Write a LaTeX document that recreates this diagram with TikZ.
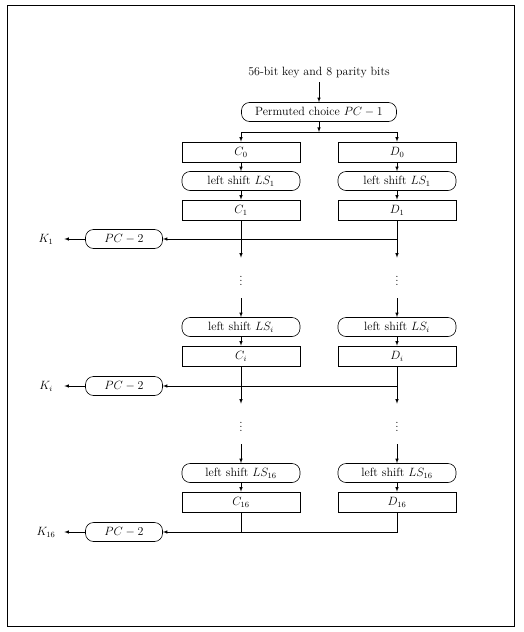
\documentclass[tikz,border=0pt]{standalone}
\usepackage{amsmath}
\usepackage{tikz}

\begin{document}
\begin{tikzpicture}[x=1pt,y=-1pt,font=\large,line width=0.6pt,>=latex,
  regbox/.style={draw,rectangle,minimum width=118pt,minimum height=20pt,inner sep=0pt},
  shiftbox/.style={draw,rounded corners=8pt,minimum width=118pt,minimum height=19pt,inner sep=0pt},
  pcbox/.style={draw,rounded corners=8pt,minimum height=19pt,inner sep=0pt},
  dotsbox/.style={minimum height=40pt,inner sep=0pt},
  keylabel/.style={minimum width=36pt,inner sep=0pt}]
\useasboundingbox (0,0) rectangle (523,632);
\draw[line width=1pt] (7,5) rectangle (514,626);

\node (input) at (319,73) {56-bit key and 8 parity bits};
\node[pcbox,minimum width=155pt] (pc1) at (319,112) {Permuted choice $PC-1$};
\coordinate (split) at (319,132);

\node[regbox] (c0) at (241,152) {$C_0$};
\node[regbox] (d0) at (397,152) {$D_0$};
\node[shiftbox] (lsc1) at (241,181) {left shift $LS_1$};
\node[shiftbox] (lsd1) at (397,181) {left shift $LS_1$};
\node[regbox] (c1) at (241,210) {$C_1$};
\node[regbox] (d1) at (397,210) {$D_1$};
\node[pcbox,minimum width=77pt] (pc2a) at (124,239) {$PC-2$};
\node[keylabel] (k1) at (46,239) {$K_1$};
\node[dotsbox] (vc1) at (241,278) {$\vdots$};
\node[dotsbox] (vd1) at (397,278) {$\vdots$};

\node[shiftbox] (lsci) at (241,327) {left shift $LS_i$};
\node[shiftbox] (lsdi) at (397,327) {left shift $LS_i$};
\node[regbox] (ci) at (241,356) {$C_i$};
\node[regbox] (di) at (397,356) {$D_i$};
\node[pcbox,minimum width=77pt] (pc2b) at (124,386) {$PC-2$};
\node[keylabel] (ki) at (46,386) {$K_i$};
\node[dotsbox] (vci) at (241,424) {$\vdots$};
\node[dotsbox] (vdi) at (397,424) {$\vdots$};

\node[shiftbox] (lsc16) at (241,473) {left shift $LS_{16}$};
\node[shiftbox] (lsd16) at (397,473) {left shift $LS_{16}$};
\node[regbox] (c16) at (241,502) {$C_{16}$};
\node[regbox] (d16) at (397,502) {$D_{16}$};
\node[pcbox,minimum width=77pt] (pc2c) at (124,532) {$PC-2$};
\node[keylabel] (k16) at (46,532) {$K_{16}$};

\draw[->] (input) -- (pc1);
\draw[->] (pc1) -- (split);
\draw (split -| c0) -- (split -| d0);
\draw[->] (split -| c0) -- (c0);
\draw[->] (split -| d0) -- (d0);
\draw[->] (c0) -- (lsc1);
\draw[->] (d0) -- (lsd1);
\draw[->] (lsc1) -- (c1);
\draw[->] (lsd1) -- (d1);

\draw[->] (c1) -- (vc1);
\draw[->] (d1) -- (vd1);
\draw[->] (d1 |- pc2a) -- (pc2a);
\draw[->] (pc2a) -- (k1);
\draw[->] (vc1) -- (lsci);
\draw[->] (vd1) -- (lsdi);
\draw[->] (lsci) -- (ci);
\draw[->] (lsdi) -- (di);

\draw[->] (ci) -- (vci);
\draw[->] (di) -- (vdi);
\draw[->] (di |- pc2b) -- (pc2b);
\draw[->] (pc2b) -- (ki);
\draw[->] (vci) -- (lsc16);
\draw[->] (vdi) -- (lsd16);
\draw[->] (lsc16) -- (c16);
\draw[->] (lsd16) -- (d16);

\draw (c16) -- (c16 |- pc2c);
\draw[->] (d16) |- (pc2c);
\draw[->] (pc2c) -- (k16);
\end{tikzpicture}
\end{document}
